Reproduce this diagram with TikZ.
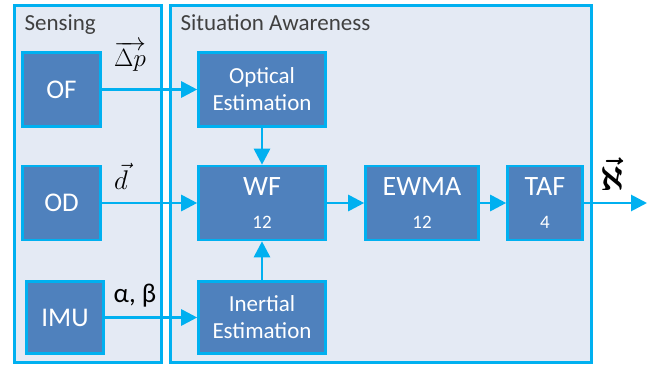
\RequirePackage{fix-cm}
\documentclass[tikz,border=0pt]{standalone}
\usepackage{fontspec}
\setmainfont{Carlito}
\usetikzlibrary{arrows.meta,positioning}

\definecolor{edgecyan}{RGB}{0,176,240}
\definecolor{blockblue}{RGB}{79,129,189}
\definecolor{panelgrey}{RGB}{228,234,244}

\begin{document}
\begin{tikzpicture}[
    x=1pt,
    y=-1pt,
    panel/.style={
        rectangle,
        draw=edgecyan,
        line width=2.6pt,
        fill=panelgrey,
        minimum height=357pt
    },
    block/.style={
        rectangle,
        draw=edgecyan,
        line width=2.6pt,
        fill=blockblue,
        text=white,
        align=center,
        minimum height=74pt,
        inner sep=0pt
    },
    flow/.style={
        -{Triangle[length=16pt,width=16pt]},
        draw=edgecyan,
        line width=2.8pt
    }
]
\useasboundingbox (0,0) rectangle (656,366);

% Panels
\node[panel, minimum width=147pt] (sensing) at (88,184) {};
\node[panel, minimum width=421pt] (awareness) at (381,184) {};
\node[anchor=base west, font=\fontsize{23}{26}\selectfont, text=black!75]
    (sensingtitle) at (21,31) {Sensing};
\node[anchor=base west, font=\fontsize{23}{26}\selectfont, text=black!75]
    (awarenesstitle) at (177,31) {Situation Awareness};

% Nodes
\node[block, minimum width=78pt, font=\fontsize{27}{30}\selectfont] (of) at (61.5,89.5) {OF};
\node[block, minimum width=78pt, font=\fontsize{27}{30}\selectfont] (od) at (61.5,203) {OD};
\node[block, minimum width=77pt, minimum height=72pt, font=\fontsize{27}{30}\selectfont] (imu) at (65,317.5) {IMU};
\node[block, minimum width=127pt, font=\fontsize{23}{27}\selectfont] (optest) at (262,89.5) {Optical\\Estimation};
\node[block, minimum width=127pt, minimum height=72pt, font=\fontsize{23}{27}\selectfont] (inest) at (262,317.5) {Inertial\\Estimation};
\node[block, minimum width=127pt, font=\fontsize{28}{33}\selectfont] (wf) at (262,203)
    {WF\\{\fontsize{19}{20}\selectfont 12}};
\node[block, minimum width=113pt, font=\fontsize{28}{33}\selectfont] (ewma) at (422,203)
    {EWMA\\{\fontsize{19}{20}\selectfont 12}};
\node[block, minimum width=75pt, font=\fontsize{28}{33}\selectfont] (taf) at (545,203)
    {TAF\\{\fontsize{19}{20}\selectfont 4}};
\coordinate (out) at (647,203);

% Signals
\draw[flow] (of) -- (optest);
\draw[flow] (od) -- (wf);
\draw[flow] (imu.east |- inest.west) -- (inest);
\draw[flow] (optest) -- (wf);
\draw[flow] (inest) -- (wf);
\draw[flow] (wf) -- (ewma);
\draw[flow] (ewma) -- (taf);
\draw[flow] (taf) -- (out);

% Labels
\node[font=\fontsize{25}{27}\selectfont] (dplabel) at (130,56) {$\overrightarrow{\Delta p}$};
\node[font=\fontsize{27}{29}\selectfont] (dlabel) at (121,176) {$\vec{d}$};
\node[font=\fontsize{27}{29}\selectfont] (anglabel) at (135,296) {α, β};
\node[font=\fontsize{34}{36}\selectfont\boldmath] (alephlabel) at (612,174) {$\vec{\aleph}$};

\end{tikzpicture}
\end{document}
